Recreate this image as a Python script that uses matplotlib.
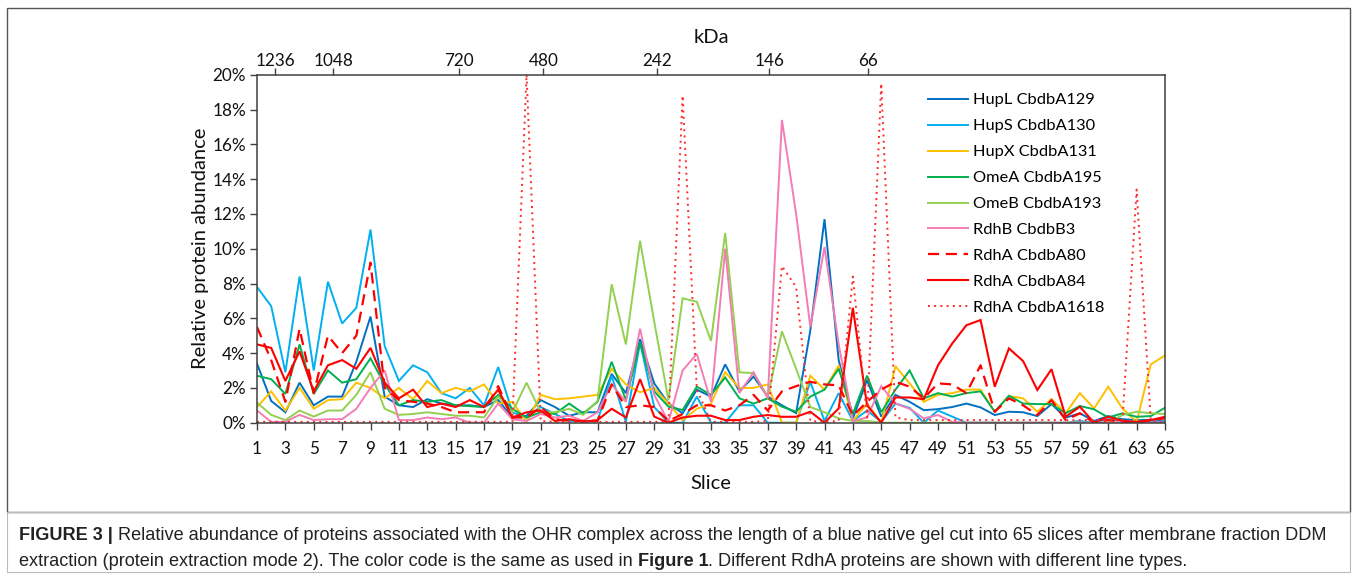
import matplotlib
matplotlib.use("Agg")
import matplotlib.pyplot as plt
from matplotlib.patches import Rectangle

# ---------------- data (percent) ----------------
slices = list(range(1, 66))

hupL = [3.4, 1.25, 0.6, 2.3, 1.0, 1.5, 1.5, 3.5, 6.1, 1.5,
        1.0, 0.9, 1.35, 1.1, 1.0, 1.0, 0.9, 1.3, 0.3, 0.4,
        1.3, 0.9, 0.4, 0.6, 0.6, 2.8, 1.7, 4.8, 2.26, 1.1,
        0.54, 1.9, 1.5, 3.35, 1.8, 2.65, 1.5, 1.0, 0.55, 5.3,
        11.7, 3.6, 0.25, 2.45, 0.35, 1.6, 1.2, 0.72, 0.78, 0.9,
        1.1, 0.88, 0.44, 0.63, 0.6, 0.38, 1.07, 0.29, 0.54, 0.1,
        0.38, 0.2, 0.15, 0.15, 0.05]

hupS = [7.8, 6.7, 2.9, 8.4, 3.0, 8.1, 5.7, 6.6, 11.1, 4.4,
        2.4, 3.3, 2.9, 1.7, 1.4, 2.0, 1.0, 3.2, 0.6, 0.3,
        0.9, 0.5, 0.1, 0.1, 0.1, 2.7, 0.05, 4.6, 0.9, 0.0,
        0.0, 1.5, 0.0, 0.0, 1.0, 1.0, 0.0, 0.0, 0.0, 2.35,
        0.1, 1.7, 0.1, 0.7, 0.05, 1.1, 0.85, 0.0, 0.7, 0.35,
        0.0, 0.0, 0.0, 0.0, 0.0, 0.0, 0.0, 0.0, 0.1, 0.0,
        0.2, 0.1, 0.1, 0.1, 0.1]

hupX = [0.9, 1.8, 0.7, 2.0, 0.8, 1.3, 1.35, 2.3, 2.0, 1.4,
        2.0, 1.35, 2.4, 1.7, 2.0, 1.8, 2.2, 1.1, 1.2, 0.05,
        1.6, 1.35, 1.4, 1.5, 1.6, 3.1, 2.2, 1.75, 2.0, 1.1,
        0.15, 0.8, 1.1, 2.9, 2.0, 2.0, 2.2, 0.0, 0.0, 2.7,
        1.9, 3.3, 0.1, 1.1, 0.0, 3.25, 2.26, 1.2, 1.6, 1.7,
        1.9, 1.9, 0.63, 1.53, 1.4, 0.63, 1.36, 0.54, 1.7, 0.82,
        2.07, 0.82, 0.05, 3.35, 3.87]

omeA = [2.7, 2.5, 1.65, 4.5, 1.65, 3.0, 2.3, 2.5, 3.7, 2.2,
        1.0, 1.3, 1.2, 1.3, 1.0, 0.95, 0.9, 1.6, 0.8, 0.3,
        0.6, 0.5, 1.1, 0.54, 1.2, 3.5, 1.3, 4.6, 1.8, 0.92,
        0.73, 2.07, 1.6, 2.6, 1.4, 1.1, 1.4, 0.92, 0.63, 1.5,
        1.9, 3.1, 0.5, 2.7, 0.6, 1.9, 3.0, 1.4, 1.7, 1.5,
        1.7, 1.8, 0.63, 1.55, 1.1, 1.07, 1.07, 0.54, 0.96, 0.77,
        0.3, 0.54, 0.34, 0.38, 0.86]

omeB = [1.15, 0.45, 0.15, 0.7, 0.35, 0.7, 0.7, 1.6, 2.9, 0.8,
        0.45, 0.5, 0.6, 0.5, 0.4, 0.4, 0.3, 1.5, 0.6, 2.3,
        0.6, 0.6, 0.8, 0.45, 1.25, 7.95, 4.5, 10.45, 5.8, 1.3,
        7.15, 6.95, 4.7, 10.9, 2.9, 2.85, 1.5, 5.25, 3.1, 0.9,
        0.6, 0.25, 0.1, 0.1, 0.0, 0.0, 0.0, 0.0, 0.0, 0.0,
        0.0, 0.0, 0.0, 0.0, 0.0, 0.0, 0.0, 0.0, 0.0, 0.0,
        0.0, 0.44, 0.63, 0.54, 0.5]

rdhB = [0.7, 0.05, 0.05, 0.45, 0.15, 0.2, 0.2, 0.8, 2.0, 3.0,
        0.15, 0.15, 0.3, 0.2, 0.3, 0.0, 0.0, 1.1, 0.2, 0.1,
        0.5, 0.3, 0.4, 0.1, 0.6, 2.2, 1.2, 5.4, 1.6, 0.05,
        3.0, 3.95, 1.2, 10.0, 1.7, 2.9, 1.4, 17.4, 12.0, 5.5,
        10.1, 4.5, 0.1, 0.3, 2.1, 1.1, 0.8, 0.25, 0.44, 0.05,
        0.0, 0.0, 0.0, 0.0, 0.0, 0.0, 0.0, 0.0, 0.0, 0.0,
        0.0, 0.0, 0.0, 0.0, 0.0]

rdhA80 = [5.5, 3.6, 1.2, 5.4, 1.7, 5.0, 4.0, 5.0, 9.2, 2.0,
          1.3, 1.2, 1.1, 0.9, 0.6, 0.6, 0.6, 2.1, 0.3, 0.3,
          0.9, 0.2, 0.1, 0.1, 0.1, 2.2, 0.9, 1.0, 0.9, 0.1,
          0.5, 1.0, 1.0, 0.7, 1.0, 1.6, 0.7, 1.8, 2.1, 2.35,
          2.2, 2.15, 0.4, 1.2, 1.9, 2.35, 2.07, 1.4, 2.26, 2.2,
          1.7, 3.3, 0.63, 1.4, 1.0, 0.44, 1.3, 0.15, 0.54, 0.0,
          0.15, 0.05, 0.0, 0.15, 0.25]

rdhA84 = [4.5, 4.3, 2.4, 4.1, 1.8, 3.3, 3.6, 3.1, 4.3, 2.3,
          1.4, 1.9, 0.9, 1.1, 0.9, 1.3, 0.9, 1.9, 0.3, 0.6,
          0.7, 0.1, 0.2, 0.05, 0.15, 0.8, 0.3, 2.5, 0.35, 0.0,
          0.3, 0.4, 0.4, 0.15, 0.15, 0.34, 0.44, 0.34, 0.34, 0.63,
          0.0, 0.82, 6.6, 1.0, 0.0, 1.45, 1.45, 1.35, 3.3, 4.55,
          5.6, 5.9, 2.07, 4.27, 3.54, 1.88, 3.07, 0.34, 0.92, 0.0,
          0.34, 0.1, 0.05, 0.15, 0.34]

rdhA1618 = [0.05, 0.05, 0.05, 0.05, 0.05, 0.05, 0.05, 0.05, 0.05, 0.05,
            0.05, 0.05, 0.05, 0.05, 0.05, 0.05, 0.05, 0.05, 0.05, 20.0,
            0.1, 0.05, 0.05, 0.05, 0.05, 0.05, 0.05, 0.05, 0.05, 0.05,
            18.8, 1.9, 0.05, 0.05, 0.05, 0.05, 0.1, 9.0, 7.8, 0.1,
            0.05, 0.1, 8.4, 0.3, 19.5, 0.3, 0.15, 0.15, 0.15, 0.15,
            0.15, 0.15, 0.15, 0.15, 0.15, 0.15, 0.15, 0.15, 0.15, 0.15,
            0.15, 0.1, 13.4, 0.1, 0.05]

series_labels = ["HupL CbdbA129", "HupS CbdbA130", "HupX CbdbA131",
                 "OmeA CbdbA195", "OmeB CbdbA193", "RdhB CbdbB3",
                 "RdhA CbdbA80", "RdhA CbdbA84", "RdhA CbdbA1618"]
series_values = [hupL, hupS, hupX, omeA, omeB, rdhB, rdhA80, rdhA84, rdhA1618]

y_ticks = [0, 2, 4, 6, 8, 10, 12, 14, 16, 18, 20]
x_ticks = list(range(1, 66, 2))
kda_labels = ["1236", "1048", "720", "480", "242", "146", "66"]
kda_positions = [2.29, 6.38, 15.26, 21.18, 29.17, 37.1, 44.04]

# ---------------- styles ----------------
colors = ["#0070C0", "#00B0F0", "#FFC000", "#00B050", "#92D050",
          "#F47DB4", "#FF0000", "#FF0000", "#FF2A2A"]
styles = ["-", "-", "-", "-", "-", "-", (0, (5, 3)), "-", (0, (1, 2.2))]
widths = [1.4, 1.4, 1.4, 1.4, 1.4, 1.4, 1.6, 1.5, 1.4]

FONT = "Lato"
axis_color = "#404040"
TICK_SIZE = 12.3

W, H = 1358, 579
fig = plt.figure(figsize=(W / 100, H / 100), dpi=100)

# outer frame and caption box
fig.patches.append(Rectangle((7 / W, 1 - 512 / H), (1350 - 7) / W, (512 - 8) / H,
                             transform=fig.transFigure, fill=False,
                             edgecolor="#555555", lw=1.0))
fig.patches.append(Rectangle((7 / W, 1 - 572 / H), (1350 - 7) / W, (572 - 512) / H,
                             transform=fig.transFigure, fill=False,
                             edgecolor="#bbbbbb", lw=0.8))

ax = fig.add_axes([257 / W, 1 - 422.7 / H, (1165 - 257) / W, (422.7 - 74.7) / H])

for vals, lab, c, ls, lw in zip(series_values, series_labels, colors, styles, widths):
    ax.plot(slices, vals, color=c, linestyle=ls, lw=lw, label=lab,
            solid_joinstyle="miter", clip_on=True)

ax.set_xlim(1, 65)
ax.set_ylim(0, 20)
ax.set_yticks(y_ticks)
ax.set_yticklabels([f"{v}%" for v in y_ticks])
ax.set_xticks(x_ticks)
ax.set_xticklabels([str(v) for v in x_ticks])

for sp in ax.spines.values():
    sp.set_color(axis_color)
    sp.set_linewidth(1.1)

ax.tick_params(axis="both", direction="out", length=5, width=1.0,
               color=axis_color, labelsize=TICK_SIZE, labelcolor="#111111")
ax.tick_params(axis="y", pad=3)
ax.tick_params(axis="x", pad=8)
for t in ax.get_xticklabels() + ax.get_yticklabels():
    t.set_fontfamily(FONT)

ax.set_xlabel("Slice", fontsize=14.5, fontfamily=FONT, labelpad=13, color="#111111")
ax.set_ylabel("Relative protein abundance", fontsize=14.5, fontfamily=FONT,
              labelpad=2, color="#111111")

ax2 = ax.twiny()
ax2.set_xlim(1, 65)
ax2.set_xticks(kda_positions)
ax2.set_xticklabels(kda_labels)
ax2.tick_params(axis="x", direction="out", length=5, width=1.0, color=axis_color,
                labelsize=TICK_SIZE, labelcolor="#111111", pad=-1)
for t in ax2.get_xticklabels():
    t.set_fontfamily(FONT)
ax2.set_xlabel("kDa", fontsize=14.5, fontfamily=FONT, labelpad=7, color="#111111")
for sp in ax2.spines.values():
    sp.set_visible(False)

leg = fig.legend(*ax.get_legend_handles_labels(), loc="upper left",
                 bbox_to_anchor=(928 / W, 1 - 93 / H), frameon=False,
                 prop={"family": FONT, "size": 11.8}, handlelength=2.45,
                 handletextpad=0.3, labelspacing=0.7, borderpad=0,
                 borderaxespad=0)

# ---------------- caption with bold runs ----------------
cap_lines = [
    [("FIGURE 3 |", "bold"),
     (" Relative abundance of proteins associated with the OHR complex across the length of a blue native gel cut into 65 slices after membrane fraction DDM", "normal")],
    [("extraction (protein extraction mode 2). The color code is the same as used in ", "normal"),
     ("Figure 1", "bold"),
     (". Different RdhA proteins are shown with different line types.", "normal")],
]
cap_y = [536, 561]
cap_size = 13.1
renderer = fig.canvas.get_renderer()
for runs, yy in zip(cap_lines, cap_y):
    x = 19
    for txt, wt in runs:
        t = fig.text(x / W, 1 - yy / H, txt, fontsize=cap_size, fontweight=wt,
                     fontfamily="Liberation Sans", color="#222222",
                     va="center", ha="left")
        bb = t.get_window_extent(renderer=renderer)
        x += bb.width

fig.savefig("out.png", dpi=100)
